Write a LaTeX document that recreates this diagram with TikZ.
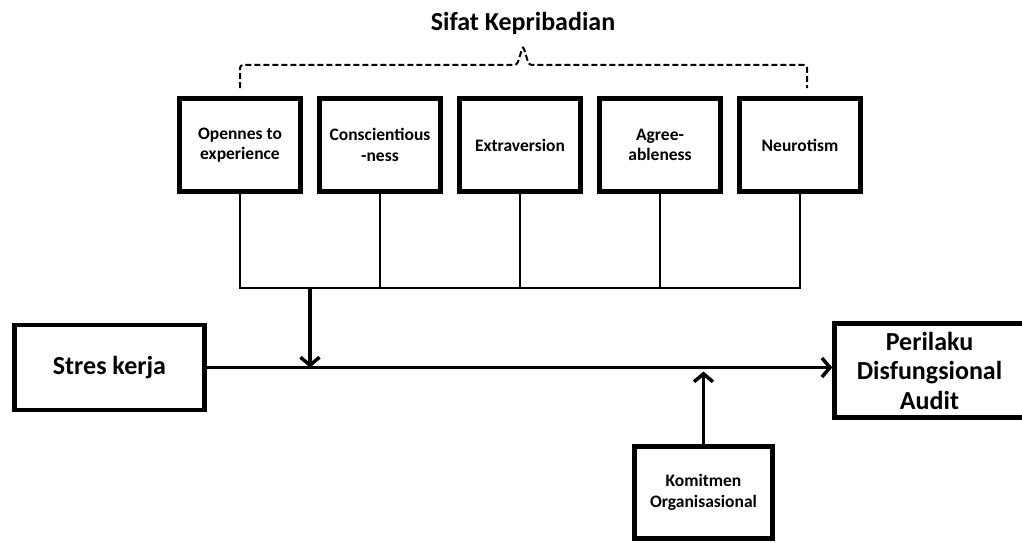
\documentclass[tikz,border=0pt]{standalone}
\usepackage{fontspec}
\setmainfont{Carlito}
\usetikzlibrary{arrows.meta, positioning, calc}

\begin{document}
\begin{tikzpicture}[x=1pt, y=-1pt,
    trait/.style={draw, line width=5pt, minimum width=121pt, minimum height=93pt,
        align=center, inner sep=2pt, font=\bfseries\fontsize{17.5}{20.5}\selectfont},
    varbox/.style={draw, line width=4.5pt, align=center, inner sep=2pt,
        font=\bfseries\fontsize{26}{29.5}\selectfont},
    link/.style={line width=2.5pt},
    flow/.style={line width=3.5pt, -{Straight Barb[length=8pt, width=19pt]}},
    bracket/.style={line width=2pt, dash pattern=on 6pt off 3pt, rounded corners=3pt}]
    \useasboundingbox (0,0) rectangle (1022,543);
    \node[font=\bfseries\fontsize{26}{30}\selectfont] (title) at (523,23) {Sifat Kepribadian};
    \node[trait] (open) at (240,145) {Opennes to\\experience};
    \node[trait, right=14pt of open] (consc) {Conscientious\\-ness};
    \node[trait, right=14pt of consc] (extra) {Extraversion};
    \node[trait, right=14pt of extra] (agree) {Agree-\\ableness};
    \node[trait, right=14pt of agree] (neuro) {Neurotism};
    \node[varbox, minimum width=190pt, minimum height=85pt] (stres) at (109.5,367.5) {Stres kerja};
    \node[varbox, minimum width=190pt, minimum height=94pt] (perilaku) at (929.5,370.5) {Perilaku\\Disfungsional\\Audit};
    \node[trait, line width=4.5pt, minimum width=138pt, minimum height=92pt] (komitmen) at (703.5,492.5) {Komitmen\\Organisasional};
    \draw[bracket] (240,88) -- (240,65) -- (517,65) -- (523,46) -- (529,65) -- (807,65) -- (807,88);
    \coordinate (bus) at (240,288);
    \coordinate (drop) at (310,288);
    \draw[link] (open.south) |- (neuro.south |- bus) -- (neuro.south);
    \foreach \n in {consc, extra, agree}
        \draw[link] (\n.south) -- (\n.south |- bus);
    \draw[flow] (drop) -- (drop |- stres.east);
    \draw[flow] (stres.east) -- (stres.east -| perilaku.west);
    \draw[flow] (komitmen.north) -- ($(komitmen.north |- stres.east)+(0,4)$);
\end{tikzpicture}
\end{document}
